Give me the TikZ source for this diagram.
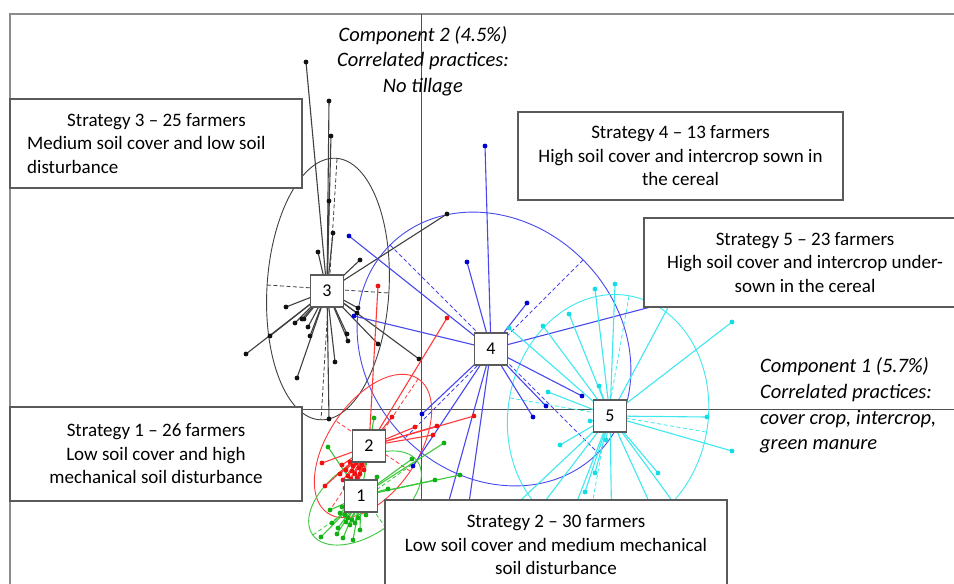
\documentclass[tikz,border=0pt]{standalone}
\usepackage{fontspec}
\setmainfont{Carlito}
\usetikzlibrary{calc}
\definecolor{boxc}{HTML}{5A5A5A}
\definecolor{framec}{HTML}{8C8C8C}
\definecolor{axc}{HTML}{505050}
\definecolor{k3line}{HTML}{404040}
\definecolor{k3dot}{HTML}{111111}
\definecolor{bline}{HTML}{4848EE}
\definecolor{bdot}{HTML}{0000D0}
\definecolor{cline}{HTML}{3EE8F0}
\definecolor{cdot}{HTML}{10DDE6}
\definecolor{rline}{HTML}{FF3A3A}
\definecolor{rdot}{HTML}{F01010}
\definecolor{gline}{HTML}{3CC83C}
\definecolor{gdot}{HTML}{10B010}
\newcommand\stratfont{\fontsize{19}{23.5}\selectfont}
\newcommand\compfont{\fontsize{20.5}{25.7}\selectfont\itshape}
\newcommand\numfont{\fontsize{18}{18}\selectfont}
\newcommand\mycluster[4]{%
  \foreach \p in {#4} {\draw[#2, line width=1.1pt] (#1) -- \p;}
  \foreach \p in {#4} {\fill[#3] \p circle (2.4);}
}
\tikzset{
  sbox/.style={draw=boxc, line width=1.3pt, fill=white, align=center, font=\stratfont, inner sep=0pt},
  cbox/.style={draw=boxc, line width=1.2pt, fill=white, minimum width=33pt, minimum height=32pt, font=\numfont, inner sep=0pt},
  comp/.style={font=\compfont, inner sep=0pt},
  axline/.style={draw=axc, line width=0.9pt},
  ell/.style={line width=0.9pt},
  eaxis/.style={line width=0.8pt, dashed, dash pattern=on 4pt off 2.5pt},
}
\begin{document}
\begin{tikzpicture}[x=1pt,y=-1pt]
\useasboundingbox (0,0) rectangle (954,584);
\clip (0,0) rectangle (954,584);
\fill[white] (0,0) rectangle (954,584);
% frame and axes
\draw[framec, line width=2pt] (10,590) -- (10,14) -- (960,14);
\draw[axline] (421,14) -- (421,590);
\draw[axline] (10,409) -- (960,409);
% cluster centres
\coordinate (c3) at (327,291);
\coordinate (c4) at (491,349);
\coordinate (c5) at (610,416);
\coordinate (c2) at (369,446);
\coordinate (c1) at (361,496);
\coordinate (e3) at (328,289);
\coordinate (e4) at (494,349);
\coordinate (e5) at (608,415);
\coordinate (e2) at (373,446);
\coordinate (e1) at (365,498);
% ellipses
\draw[ell, k3line, rotate around={86.5:(e3)}] (e3) ellipse [x radius=131, y radius=61];
\draw[eaxis, k3line] (337,159) -- (321,420);
\draw[eaxis, k3line] (267,285) -- (389,293);
\draw[ell, bline, rotate around={-45:(e4)}] (e4) ellipse [x radius=147, y radius=126];
\draw[eaxis, bline] (390,245) -- (598,453);
\draw[eaxis, bline] (583,260) -- (405,438);
\draw[ell, cline, rotate around={80:(e5)}] (e5) ellipse [x radius=121, y radius=100];
\draw[eaxis, cline] (629,296) -- (587,534);
\draw[eaxis, cline] (706,432) -- (510,398);
\draw[ell, rline, rotate around={56:(e2)}] (e2) ellipse [x radius=81, y radius=45];
\draw[eaxis, rline] (418,379) -- (328,513);
\draw[eaxis, rline] (410,471) -- (336,421);
\draw[ell, gline, rotate around={35:(e1)}] (e1) ellipse [x radius=64, y radius=36];
\draw[eaxis, gline] (417,461) -- (313,535);
\draw[eaxis, gline] (386,528) -- (344,469);
% clusters
\mycluster{c3}{k3line}{k3dot}{(306,62),(329,101),(331,136),(329,201),(333,233),(318,252),(360,260),(447,214),(286,307),(295,323),(302,319),(304,319),(308,327),(270,336),(246,354),(310,336),(297,378),(335,362),(347,334),(348,341),(358,308),(378,344),(419,359),(329,419),(357,313)}
\mycluster{c4}{bline}{bdot}{(485,146),(467,262),(349,236),(527,303),(354,316),(582,396),(546,406),(533,417),(422,414),(662,304),(413,466),(468,510),(445,515)}
\mycluster{c5}{cline}{cdot}{(595,289),(615,284),(569,314),(543,326),(509,328),(732,322),(599,386),(548,392),(590,421),(707,417),(732,451),(560,445),(606,440),(595,473),(658,473),(585,492),(672,300),(523,530),(566,530),(662,530),(690,525),(505,515),(612,540)}
\mycluster{c1}{gline}{gdot}{(374,418),(328,447),(444,443),(412,459),(377,477),(388,489),(332,523),(337,534),(343,538),(353,540),(350,525),(355,523),(340,513),(345,515),(321,537),(460,475),(435,480),(348,518),(352,520),(358,518),(346,522),(338,528),(360,530),(342,507),(366,515),(330,510)}
\mycluster{c2}{rline}{rdot}{(378,286),(447,318),(392,417),(415,427),(437,426),(474,416),(433,435),(322,463),(342,465),(325,486),(350,462),(353,466),(356,463),(359,468),(352,471),(355,474),(348,476),(351,479),(357,478),(360,474),(346,470),(362,465),(349,483),(354,486),(345,488),(358,482),(340,474),(364,470),(343,480),(356,490)}
% centre boxes
\node[cbox] (n3) at (c3) {3};
\node[cbox] (n4) at (c4) {4};
\node[cbox] (n5) at (c5) {5};
\node[cbox] (n2) at (c2) {2};
\node[cbox] (n1) at (c1) {1};
% strategy boxes
\node[sbox, minimum width=292pt, minimum height=89pt] (s3) at (156,143.5) {};
\node[font=\stratfont, inner sep=0pt, align=left, anchor=west] (t3) at (27,143.5)
  {\hspace*{40pt}Strategy 3 -- 25 farmers\\Medium soil cover and low soil\\disturbance};
\node[sbox, minimum width=325pt, minimum height=88pt] (s4) at (680.5,156)
  {Strategy 4 -- 13 farmers\\High soil cover and intercrop sown in\\the cereal};
\node[sbox, minimum width=322pt, minimum height=89pt] (s5) at (805,262.5)
  {Strategy 5 -- 23 farmers\\High soil cover and intercrop under-\\sown in the cereal};
\node[sbox, minimum width=292pt, minimum height=94pt] (s1) at (156,454)
  {Strategy 1 -- 26 farmers\\Low soil cover and high\\mechanical soil disturbance};
\node[sbox, minimum width=342pt, minimum height=90pt] (s2) at (556,545)
  {Strategy 2 -- 30 farmers\\Low soil cover and medium mechanical\\soil disturbance};
% component labels
\node[comp, align=center] (comp2) at (423,61)
  {Component 2 (4.5\%)\\Correlated practices:\\No tillage};
\node[comp, align=left, anchor=west] (comp1) at (760,405.5)
  {Component 1 (5.7\%)\\Correlated practices:\\cover crop, intercrop,\\green manure};
\end{tikzpicture}
\end{document}
